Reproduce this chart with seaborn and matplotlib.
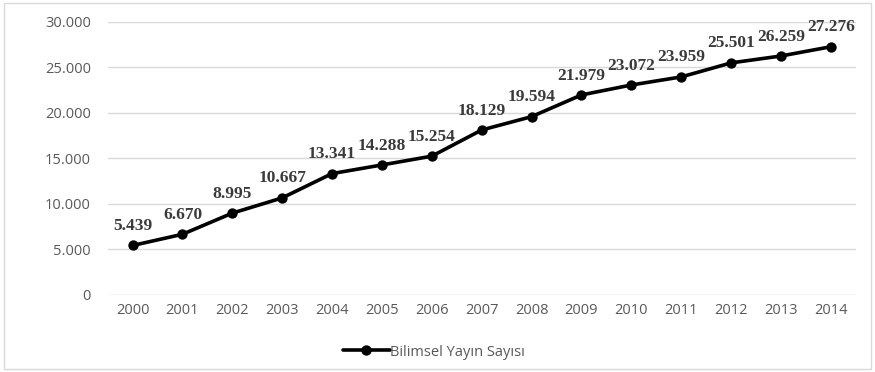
import matplotlib
matplotlib.use("Agg")
import matplotlib.pyplot as plt
import seaborn as sns
import pandas as pd
from matplotlib.patches import Rectangle
from matplotlib.ticker import FuncFormatter

years = ["2000", "2001", "2002", "2003", "2004", "2005", "2006", "2007",
         "2008", "2009", "2010", "2011", "2012", "2013", "2014"]
publications = [5439, 6670, 8995, 10667, 13341, 14288, 15254, 18129,
                19594, 21979, 23072, 23959, 25501, 26259, 27276]
series_name = "Bilimsel Yayın Sayısı"

df = pd.DataFrame({"Yıl": years, "Sayı": publications})

sns.set_theme(style="white")
plt.rcParams["font.family"] = ["Open Sans", "DejaVu Sans"]

fig = plt.figure(figsize=(8.75, 3.72), dpi=100)
ax = fig.add_axes([0.123, 0.207, 0.855, 0.734])

sns.pointplot(data=df, x="Yıl", y="Sayı", color="black", ax=ax,
              markers="o", linestyles="-", label=series_name,
              markersize=5.5, linewidth=2.6)

ax.set_ylim(0, 30000)
ax.set_yticks(range(0, 30001, 5000))
ax.yaxis.set_major_formatter(FuncFormatter(lambda v, p: f"{int(v):,}".replace(",", ".")))
ax.set_xlim(-0.5, len(years) - 0.5)
ax.grid(axis="y", color="#d9d9d9", linewidth=1)
ax.set_axisbelow(True)
for s in ax.spines.values():
    s.set_visible(False)
ax.set_xlabel("")
ax.set_ylabel("")
ax.tick_params(axis="y", length=0, labelsize=10.5, colors="#595959", pad=12)
ax.tick_params(axis="x", length=0, labelsize=10.5, colors="#595959", pad=6)

for i, v in enumerate(publications):
    ax.annotate(f"{v:,}".replace(",", "."), (i, v), xytext=(0, 14),
                textcoords="offset points", ha="center", va="center",
                fontsize=12.5, fontweight="bold", color="#3a3a3a",
                family=["Liberation Serif", "DejaVu Serif"])

leg = ax.legend(loc="center left", bbox_to_anchor=(343 / 875, 1 - 352 / 372),
                bbox_transform=fig.transFigure, frameon=False,
                fontsize=10.5, handlelength=3.2, handletextpad=0.0,
                borderpad=0.0, borderaxespad=0.0)
for t in leg.get_texts():
    t.set_color("#595959")

fig.patches.append(Rectangle((0.005, 0.008), 0.99, 0.984, transform=fig.transFigure,
                             fill=False, edgecolor="#d9d9d9", linewidth=1))

fig.savefig("out.png", dpi=100)
